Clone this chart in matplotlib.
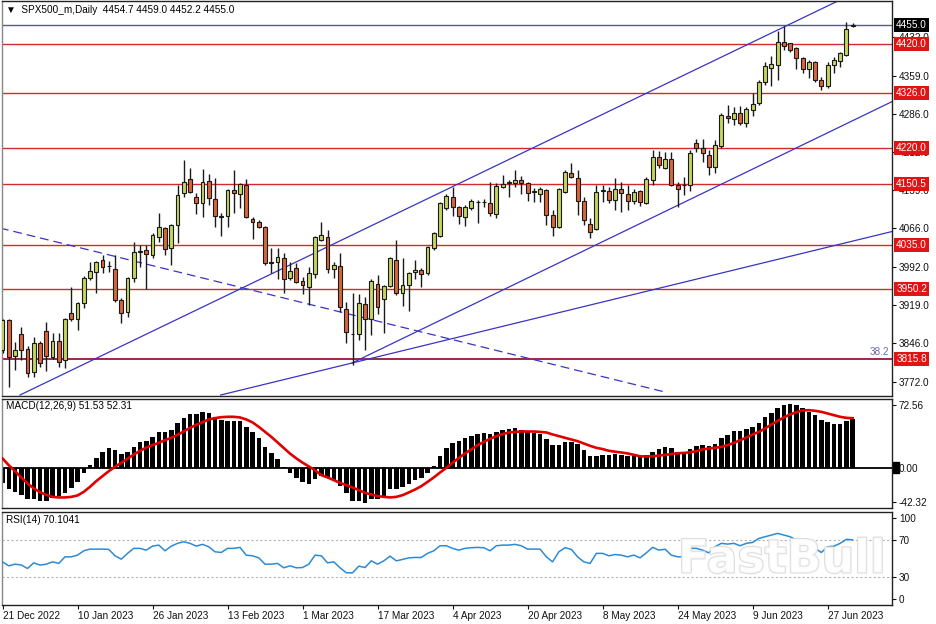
import matplotlib
matplotlib.use('Agg')
import matplotlib.pyplot as plt
import numpy as np
import matplotlib.patheffects as pe
from matplotlib.patches import Rectangle

plt.rcParams['font.family'] = ['Liberation Sans', 'DejaVu Sans']

# ---------------- data ----------------
opens = [3832.8, 3890.4, 3821.9, 3863.0, 3834.2, 3790.1, 3845.7, 3869.3, 3818.9, 3850.1,
         3813.7, 3903.2, 3892.3, 3922.4, 3970.3, 3983.0, 4005.4, 3993.5, 3987.6, 3928.7,
         3906.3, 3970.3, 4021.3, 4024.6, 4015.0, 4048.9, 4066.2, 4027.8, 4072.5, 4134.4,
         4160.1, 4126.7, 4115.2, 4157.4, 4121.7, 4088.4, 4089.7, 4139.6, 4131.3, 4149.2,
         4083.4, 4078.8, 4068.1, 4000.2, 4002.1, 4008.6, 3970.3, 3989.5, 3965.1, 3954.2,
         3978.5, 4043.8, 4048.9, 3987.6, 3993.9, 3910.9, 3863.0, 3863.5, 3920.5, 3891.7,
         3958.8, 3930.0, 3955.5, 4005.4, 3942.7, 3957.5, 3981.8, 3986.2, 3979.9, 4029.0,
         4051.4, 4104.5, 4125.6, 4106.4, 4087.2, 4104.5, 4116.0, 4116.3, 4114.1, 4093.6,
         4144.8, 4152.4, 4153.6, 4158.7, 4152.4, 4136.0, 4131.9, 4139.6, 4091.6, 4069.2,
         4136.3, 4172.7, 4163.2, 4119.1, 4073.8, 4064.2, 4138.0, 4138.2, 4120.4, 4140.9,
         4131.9, 4119.1, 4137.6, 4115.2, 4158.7, 4202.3, 4181.2, 4198.4, 4149.2, 4149.4,
         4149.2, 4229.1, 4219.5, 4206.7, 4183.1, 4223.9, 4282.0, 4275.1, 4287.8, 4268.6,
         4292.9, 4305.8, 4347.2, 4372.9, 4379.2, 4423.9, 4420.8, 4411.2, 4392.0, 4370.9,
         4385.5, 4350.4, 4338.9, 4379.2, 4387.4, 4398.4, 4454.7]
highs = [3893.0, 3892.0, 3848.8, 3877.0, 3840.0, 3858.4, 3850.0, 3887.1, 3864.9, 3866.0,
         3895.0, 3954.2, 3925.0, 3974.0, 4002.1, 4004.0, 4015.0, 4004.0, 4015.0, 3932.0,
         3973.0, 4040.5, 4034.1, 4034.0, 4058.0, 4094.9, 4068.0, 4075.0, 4149.2, 4197.1,
         4181.2, 4133.8, 4179.3, 4170.2, 4162.0, 4096.0, 4142.0, 4177.9, 4153.6, 4160.1,
         4087.0, 4082.0, 4070.0, 4027.8, 4027.8, 4018.2, 4002.1, 3999.0, 3973.4, 3991.4,
         4051.0, 4078.8, 4062.9, 4002.1, 4018.2, 3925.0, 3941.5, 3940.2, 3935.0, 3968.4,
         3976.6, 3958.0, 4012.0, 4043.8, 4008.6, 3982.0, 4005.4, 3990.0, 4033.0, 4059.6,
         4117.0, 4131.9, 4144.8, 4108.0, 4110.8, 4121.7, 4120.4, 4121.7, 4155.5, 4152.4,
         4168.3, 4158.7, 4177.9, 4166.4, 4155.0, 4142.8, 4144.8, 4142.0, 4101.2, 4143.0,
         4177.0, 4190.8, 4177.9, 4126.7, 4085.3, 4149.2, 4149.2, 4145.0, 4162.0, 4155.5,
         4149.2, 4140.9, 4140.0, 4165.0, 4216.3, 4214.9, 4213.0, 4213.0, 4155.5, 4165.1,
         4216.3, 4236.8, 4236.8, 4216.3, 4235.4, 4287.0, 4302.5, 4299.3, 4300.6, 4298.1,
         4324.9, 4350.0, 4385.0, 4396.5, 4445.0, 4454.0, 4422.0, 4413.0, 4395.1, 4388.0,
         4387.4, 4356.8, 4385.5, 4395.1, 4405.0, 4462.2, 4459.0]
lows = [3828.0, 3762.5, 3794.5, 3813.7, 3781.7, 3781.7, 3800.8, 3793.2, 3815.0, 3800.8,
        3797.8, 3888.4, 3871.2, 3912.8, 3968.0, 3942.7, 3979.9, 3983.0, 3925.5, 3884.0,
        3895.5, 3963.8, 3992.5, 3949.2, 4010.0, 4040.5, 4015.0, 3995.8, 4037.4, 4126.7,
        4133.0, 4093.5, 4088.4, 4110.8, 4068.1, 4051.4, 4069.2, 4094.9, 4104.5, 4085.0,
        4045.1, 4066.0, 3995.8, 3979.9, 3968.4, 3941.5, 3968.0, 3960.7, 3940.2, 3919.1,
        3970.3, 4041.0, 3979.9, 3970.3, 3906.3, 3845.7, 3804.1, 3852.0, 3832.8, 3861.6,
        3901.9, 3864.9, 3953.0, 3938.3, 3917.2, 3908.2, 3968.4, 3953.0, 3977.0, 4024.6,
        4049.0, 4101.0, 4089.7, 4074.4, 4070.6, 4102.0, 4075.7, 4107.6, 4089.7, 4085.3,
        4143.0, 4126.7, 4144.8, 4131.9, 4119.1, 4117.0, 4117.0, 4072.5, 4051.4, 4067.0,
        4134.0, 4162.0, 4091.6, 4072.5, 4047.0, 4062.0, 4117.0, 4115.0, 4101.2, 4098.0,
        4101.2, 4112.7, 4108.9, 4112.0, 4149.2, 4181.2, 4179.0, 4147.0, 4106.4, 4130.0,
        4138.0, 4213.0, 4193.8, 4168.3, 4171.6, 4221.0, 4268.6, 4264.2, 4264.2, 4259.8,
        4281.4, 4303.0, 4340.9, 4339.0, 4350.4, 4408.0, 4404.7, 4370.9, 4364.4, 4353.7,
        4347.2, 4331.3, 4334.5, 4364.4, 4375.9, 4397.0, 4452.2]
closes = [3890.4, 3820.0, 3832.8, 3832.8, 3788.2, 3845.7, 3807.3, 3821.9, 3850.1, 3810.4,
          3892.3, 3892.3, 3922.4, 3971.5, 3984.3, 4002.1, 3992.5, 3994.0, 3928.7, 3904.3,
          3970.3, 4021.3, 4023.2, 4016.9, 4053.3, 4068.1, 4025.9, 4072.5, 4130.0, 4154.3,
          4136.3, 4114.1, 4155.5, 4124.8, 4089.7, 4089.0, 4139.6, 4133.2, 4150.5, 4087.2,
          4077.6, 4068.1, 4000.2, 4000.5, 4010.6, 3968.4, 3984.9, 3963.8, 3957.5, 3979.9,
          4048.9, 4053.3, 3987.6, 3995.8, 3915.9, 3867.9, 3864.0, 3922.4, 3891.7, 3965.1,
          3915.9, 3956.1, 4008.6, 3941.5, 3957.5, 3979.9, 3986.2, 3978.0, 4030.9, 4056.6,
          4114.1, 4128.1, 4107.6, 4089.7, 4106.4, 4118.5, 4116.3, 4116.0, 4094.9, 4147.2,
          4151.1, 4155.5, 4158.7, 4153.6, 4133.2, 4136.3, 4140.9, 4091.6, 4068.1, 4140.9,
          4174.6, 4165.1, 4119.1, 4082.1, 4059.6, 4136.3, 4138.2, 4120.4, 4140.9, 4133.2,
          4119.1, 4136.3, 4117.0, 4160.1, 4203.4, 4187.5, 4198.4, 4149.2, 4141.0, 4149.2,
          4211.1, 4219.5, 4209.9, 4184.3, 4225.8, 4283.3, 4277.0, 4287.8, 4267.4, 4294.3,
          4304.4, 4347.2, 4377.3, 4381.1, 4423.9, 4415.6, 4408.0, 4392.0, 4370.9, 4385.5,
          4350.4, 4338.9, 4379.2, 4388.8, 4402.8, 4447.6, 4455.0]

macd_hist = [-15.8, -22.8, -25.3, -28.8, -33.3, -33.3, -35.1, -35.1, -32.3, -29.8,
             -27.0, -21.7, -14.8, -5.9, 2.8, 10.5, 16.2, 20.4, 18.7, 14.4,
             16.9, 21.5, 26.8, 28.1, 32.7, 37.3, 37.3, 39.7, 46.8, 52.7,
             56.3, 56.3, 58.4, 57.3, 53.1, 50.3, 49.5, 49.5, 49.5, 43.2,
             37.9, 31.6, 22.1, 15.2, 8.9, 0.5, -5.3, -11.2, -14.8, -17.5,
             -12.2, -8.4, -10.5, -13.0, -19.0, -27.0, -35.1, -35.1, -37.5, -33.3,
             -33.3, -29.8, -22.8, -22.5, -20.7, -17.5, -13.0, -11.2, -5.3, 1.8,
             12.3, 21.1, 26.4, 28.1, 31.0, 33.4, 35.5, 36.3, 35.5, 37.3,
             39.7, 41.1, 41.5, 39.7, 38.7, 36.9, 35.2, 29.9, 23.9, 23.9,
             27.4, 27.4, 24.7, 18.7, 12.3, 12.6, 13.4, 13.4, 14.1, 13.4,
             12.3, 12.3, 11.0, 13.4, 16.9, 19.7, 21.5, 20.4, 16.9, 15.9,
             19.4, 22.9, 23.6, 22.9, 24.9, 31.0, 34.5, 38.7, 38.7, 40.5,
             43.2, 47.4, 53.1, 57.3, 62.6, 66.1, 66.8, 66.1, 62.6, 59.0,
             55.5, 50.2, 47.8, 46.7, 46.7, 49.2, 51.53]
macd_signal = [9.9, 2.8, -3.5, -10.1, -16.4, -21.7, -25.6, -28.5, -30.6, -31.2,
               -31.2, -30.6, -29.1, -25.3, -20.0, -14.0, -8.7, -3.5, 1.1, 5.3,
               9.5, 14.1, 17.9, 21.5, 23.9, 26.4, 29.2, 31.6, 34.8, 38.4,
               42.2, 45.3, 48.2, 51.0, 52.4, 53.4, 53.8, 53.8, 53.1, 51.0,
               47.9, 43.2, 37.9, 32.7, 26.8, 21.0, 15.0, 10.0, 5.5, 1.5,
               -2.5, -7.7, -10.1, -13.0, -15.8, -18.2, -20.7, -23.5, -26.3, -28.0,
               -29.8, -30.6, -31.2, -30.6, -28.8, -25.9, -22.8, -19.3, -14.8, -10.1,
               -4.9, 0.0, 5.3, 10.5, 15.2, 19.4, 23.9, 27.4, 30.6, 33.4,
               35.5, 37.3, 37.9, 38.3, 38.3, 38.3, 37.9, 37.3, 35.2, 33.4,
               31.6, 29.9, 28.1, 25.7, 23.2, 21.1, 19.8, 18.0, 17.0, 16.2,
               15.2, 13.7, 12.2, 11.9, 12.2, 12.9, 13.6, 14.6, 15.4, 15.7,
               16.4, 17.5, 19.4, 20.4, 21.1, 22.1, 23.9, 26.3, 29.2, 32.0,
               35.2, 37.9, 41.5, 45.7, 49.5, 53.1, 56.3, 58.7, 60.5, 60.8,
               60.1, 59.0, 57.3, 55.5, 53.8, 52.7, 52.31]
rsi = [46.4, 42.1, 43.9, 43.0, 39.3, 45.3, 42.9, 43.9, 46.4, 44.7,
       51.8, 51.8, 53.6, 58.3, 60.1, 60.1, 60.1, 59.8, 52.9, 49.3,
       55.5, 60.9, 60.9, 59.0, 63.3, 64.4, 58.3, 63.3, 66.3, 68.0,
       66.3, 63.3, 65.2, 62.6, 57.2, 56.5, 60.9, 60.9, 61.9, 53.6,
       52.9, 50.7, 43.9, 43.9, 44.7, 40.0, 42.1, 40.0, 40.3, 43.9,
       53.6, 52.9, 45.3, 46.4, 40.0, 34.6, 34.6, 41.8, 40.3, 47.5,
       43.9, 47.5, 52.5, 47.5, 49.0, 50.7, 51.1, 51.1, 55.5, 58.3,
       63.7, 63.7, 60.9, 59.0, 60.9, 61.6, 61.9, 61.6, 58.3, 63.7,
       64.4, 64.4, 65.2, 63.7, 60.1, 60.1, 60.1, 51.8, 46.4, 57.2,
       61.6, 59.8, 51.8, 46.4, 44.7, 55.5, 55.5, 52.9, 54.3, 53.6,
       51.8, 53.6, 50.7, 56.1, 62.0, 59.0, 60.0, 53.6, 51.8, 51.8,
       60.9, 60.9, 59.0, 56.1, 62.6, 66.3, 65.5, 66.3, 63.7, 66.3,
       67.3, 71.6, 73.4, 75.2, 77.0, 75.2, 73.4, 69.8, 65.2, 65.5,
       60.9, 56.5, 62.6, 63.2, 66.3, 70.6, 70.1041]

level_lines = [4420.0, 4326.0, 4220.0, 4150.5, 4035.0, 3950.2, 3815.8]
current_price = 4455.0
price_ticks = [3772.0, 3846.0, 3919.0, 3992.0, 4066.0, 4139.0, 4212.0, 4286.0, 4359.0, 4432.0]
# trend lines: (bar0, price0, bar1, price1)
channel_upper = (2.8, 3746.6, 142.3, 4551.9)
channel_lower = (55.9, 3807.9, 142.3, 4309.0)
fan_line = (34.9, 3746.6, 142.3, 4060.0)
dashed_line = (-0.4, 4066.7, 106.0, 3752.3)
fib_label = '38.2'

date_labels = ['21 Dec 2022', '10 Jan 2023', '26 Jan 2023', '13 Feb 2023', '1 Mar 2023',
               '17 Mar 2023', '4 Apr 2023', '20 Apr 2023', '8 May 2023', '24 May 2023',
               '9 Jun 2023', '27 Jun 2023']
date_label_bars = [0, 12, 24, 36, 48, 60, 72, 84, 96, 108, 120, 132]
macd_tick_labels = ['72.56', '0.00', '-42.32']
macd_range = (-42.32, 72.56)
rsi_tick_labels = ['100', '70', '30', '0']
rsi_levels = [70, 30]

title_text = '\u25BC  SPX500_m,Daily  4454.7 4459.0 4452.2 4455.0'
macd_title = 'MACD(12,26,9) 51.53 52.31'
rsi_title = 'RSI(14) 70.1041'

# ---------------- layout ----------------
W, H = 936, 624
fig = plt.figure(figsize=(W / 100, H / 100), dpi=100)
fig.patch.set_facecolor('white')


def ax_px(left, top, right, bottom):
    return fig.add_axes([left / W, 1 - bottom / H, (right - left) / W, (bottom - top) / H])


ax = ax_px(1.5, 1, 892, 396)
axm = ax_px(1.5, 399, 892, 508)
axr = ax_px(1.5, 512, 892, 605)

FS = 7.2
XLIM = (-0.16, 142.3)
BULL = '#c6d560'
BEAR = '#d9663a'
EDGE = '#1a1a1a'

for a in (ax, axm, axr):
    a.set_xlim(*XLIM)
    for s in a.spines.values():
        s.set_color('#222222')
        s.set_linewidth(1.0)
    a.spines['left'].set_color('#888888')
    a.yaxis.tick_right()
    a.tick_params(axis='y', length=3, width=0.8, pad=2, labelsize=FS, colors='#111111')
    a.tick_params(axis='x', length=0, labelbottom=False)

# ---------------- main price panel ----------------
n = len(closes)
x = np.arange(n)
o = np.array(opens)
h = np.array(highs)
l = np.array(lows)
c = np.array(closes)

ax.set_ylim(3744.7, 4501.9)

for lv in level_lines:
    col = '#9a2848' if lv == level_lines[-1] else '#d22a2a'
    lw = 1.4 if lv == level_lines[-1] else 1.0
    ax.axhline(lv, color=col, lw=lw, zorder=1)
ax.axhline(current_price, color='#55589a', lw=1.0, zorder=1)

for (x0, y0, x1, y1) in (channel_upper, channel_lower, fan_line):
    ax.plot([x0, x1], [y0, y1], color='#3a34c4', lw=0.9, zorder=2)
ax.plot([dashed_line[0], dashed_line[2]], [dashed_line[1], dashed_line[3]],
        color='#3a34c4', lw=0.9, ls=(0, (7, 4)), zorder=2)

up = c >= o
ax.vlines(x, l, h, color=EDGE, lw=1.0, zorder=3)
body_lo = np.minimum(o, c)
body_h = np.maximum(np.abs(c - o), 0.8)
ax.bar(x, body_h, bottom=body_lo, width=0.62,
       color=np.where(up, BULL, BEAR), edgecolor=EDGE, linewidth=0.8, zorder=4)

ax.set_yticks(price_ticks)
ax.set_yticklabels([f'{t:.1f}' for t in price_ticks])

trans_main = ax.get_yaxis_transform()
ax.annotate(f'{current_price:.1f}', xy=(1, current_price), xycoords=trans_main,
            xytext=(3, 0), textcoords='offset points', ha='left', va='center',
            color='white', fontsize=FS,
            bbox=dict(boxstyle='square,pad=0.2', fc='black', ec='none'),
            annotation_clip=False, zorder=10)
for lv in level_lines:
    ax.annotate(f'{lv:.1f}', xy=(1, lv), xycoords=trans_main,
                xytext=(3, 0), textcoords='offset points', ha='left', va='center',
                color='white', fontsize=FS,
                bbox=dict(boxstyle='square,pad=0.2', fc='#e01414', ec='none'),
                annotation_clip=False, zorder=10)

ax.text(0.997, level_lines[-1] + 4, fib_label, transform=trans_main, ha='right',
        va='bottom', fontsize=FS, color='#6a6aa8', zorder=5)
ax.text(4 / 890.5, 1 - 9 / 395, title_text, transform=ax.transAxes, ha='left',
        va='center', fontsize=FS, color='black', zorder=6)

# ---------------- MACD panel ----------------
lo_m, hi_m = macd_range
axm.set_ylim(lo_m, hi_m)
axm.bar(x, macd_hist, width=0.72, color='black', zorder=2)
axm.axhline(0, color='black', lw=1.3, zorder=2)
axm.plot(x, macd_signal, color='#e00000', lw=1.9, zorder=3)
rng_m = hi_m - lo_m
axm.set_yticks([hi_m - 0.055 * rng_m, 0.0, lo_m + 0.055 * rng_m])
axm.set_yticklabels(macd_tick_labels)
axm.text(4 / 890.5, 1 - 7 / 109, macd_title, transform=axm.transAxes, ha='left',
         va='center', fontsize=FS, color='black')
fig.patches.append(Rectangle((893 / W, 1 - 473 / H), 6 / W, 11 / H,
                             transform=fig.transFigure, color='black', zorder=0))

# ---------------- RSI panel ----------------
axr.set_ylim(0, 100)
for lv in rsi_levels:
    axr.axhline(lv, color='#b4b4b4', lw=0.8, ls=(0, (2, 2)), zorder=1)
axr.plot(x, rsi, color='#2c8bd6', lw=1.1, zorder=3)
axr.set_yticks([93.5, 70, 30, 6.5])
axr.set_yticklabels(rsi_tick_labels)
axr.text(4 / 890.5, 1 - 8 / 93, rsi_title, transform=axr.transAxes, ha='left',
         va='center', fontsize=FS, color='black')

axr.set_xticks(date_label_bars)
axr.set_xticklabels(date_labels, ha='left')
axr.tick_params(axis='x', length=3, width=0.8, pad=1.5, labelbottom=True,
                labelsize=FS, colors='#111111')

# watermark
fig.text(782 / W, 1 - 560 / H, 'FastBull', fontsize=33, fontweight='bold',
         family='DejaVu Sans', color='white', alpha=0.85, ha='center', va='center',
         zorder=20,
         path_effects=[pe.withStroke(linewidth=1.6, foreground='#d8d8d8')])

fig.savefig('out.png', dpi=100, facecolor='white')
